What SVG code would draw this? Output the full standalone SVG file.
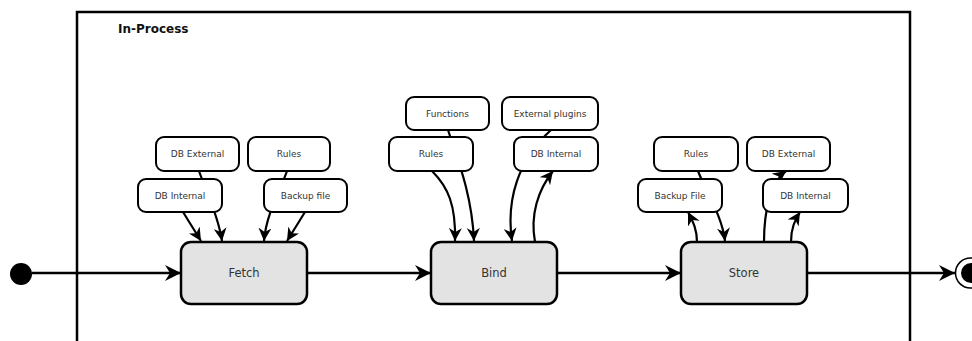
<svg xmlns="http://www.w3.org/2000/svg" width="972" height="341" viewBox="0 0 972 341">
  <style>
    .frame { fill: none; stroke: #000; stroke-width: 2.5; }
    .title { font-family: "DejaVu Sans", sans-serif; font-size: 12px; font-weight: bold; fill: #111; }
    .act rect { fill: #e3e3e3; stroke: #000; stroke-width: 2.5; }
    .act text { font-family: "DejaVu Sans", sans-serif; font-size: 11.5px; fill: #333; text-anchor: middle; }
    .obj rect { fill: #fff; stroke: #000; stroke-width: 2; }
    .obj text { font-family: "DejaVu Sans", sans-serif; font-size: 9px; fill: #333; text-anchor: middle; }
    .flow { fill: none; stroke: #000; stroke-width: 2.5; marker-end: url(#bigArrow); }
    .link { fill: none; stroke: #000; stroke-width: 2.2; marker-end: url(#smallArrow); }
  </style>
  <defs>
    <marker id="bigArrow" markerUnits="userSpaceOnUse" markerWidth="16" markerHeight="16" viewBox="0 0 16 16" refX="16" refY="8" orient="auto">
      <path d="M0,0 L16,8 L0,16 L5,8 z" fill="#000"/>
    </marker>
    <marker id="smallArrow" markerUnits="userSpaceOnUse" markerWidth="13" markerHeight="13" viewBox="0 0 13 13" refX="13" refY="6.5" orient="auto">
      <path d="M0,0 L13,6.5 L0,13 L4,6.5 z" fill="#000"/>
    </marker>
  </defs>

  <!-- swimlane frame -->
  <path class="frame" d="M77,341 L77,12 L910,12 L910,341"/>
  <text class="title" x="118" y="33">In-Process</text>

  <!-- connectors -->
  <g id="connectors">
    <path class="flow" d="M32,273 L181,273"/>
    <path class="flow" d="M307,273 L431,273"/>
    <path class="flow" d="M557,273 L681,273"/>
    <path class="flow" d="M807,273 L955,273"/>

    <!-- Fetch inputs -->
    <path class="link" d="M183,212 L201,241"/>
    <path class="link" d="M199,171 C204,186 218,214 222,241"/>
    <path class="link" d="M287,171 C282,186 266,214 264,241"/>
    <path class="link" d="M305,212 L287,241"/>

    <!-- Bind inputs / outputs -->
    <path class="link" d="M432,171 C448,187 456,205 455,241"/>
    <path class="link" d="M448,130 C458,160 472,195 474,241"/>
    <path class="link" d="M551,130 C518,160 506,200 512,241"/>
    <path class="link" d="M535,242 C530,215 538,190 553,171"/>

    <!-- Store inputs / outputs -->
    <path class="link" d="M698,171 C705,190 722,215 725,241"/>
    <path class="link" d="M697,242 C697,228 692,220 688,212"/>
    <path class="link" d="M764,242 C764,212 770,183 786,171"/>
    <path class="link" d="M791,242 C791,228 795,220 800,212"/>
  </g>

  <!-- start / end -->
  <g id="start"><circle cx="21" cy="274" r="11" fill="#000"/></g>
  <g id="end">
    <circle cx="970.5" cy="273" r="15" fill="#fff" stroke="#000" stroke-width="1.5"/>
    <circle cx="971" cy="273" r="10" fill="#000"/>
  </g>

  <!-- activities -->
  <g id="fetch" class="act"><rect x="181" y="242" width="126" height="62" rx="10"/><text x="244" y="277">Fetch</text></g>
  <g id="bind" class="act"><rect x="431" y="242" width="126" height="62" rx="10"/><text x="494" y="277">Bind</text></g>
  <g id="store" class="act"><rect x="681" y="242" width="126" height="62" rx="10"/><text x="744" y="277">Store</text></g>

  <!-- Fetch resources -->
  <g id="fetch-db-external" class="obj"><rect x="156" y="137" width="83" height="34" rx="8"/><text x="197.5" y="157">DB External</text></g>
  <g id="fetch-rules" class="obj"><rect x="248" y="137" width="82" height="34" rx="8"/><text x="289" y="157">Rules</text></g>
  <g id="fetch-db-internal" class="obj"><rect x="138" y="179" width="84" height="33" rx="8"/><text x="180" y="199">DB Internal</text></g>
  <g id="fetch-backup-file" class="obj"><rect x="264" y="179" width="83" height="33" rx="8"/><text x="305.5" y="199">Backup file</text></g>

  <!-- Bind resources -->
  <g id="bind-functions" class="obj"><rect x="406" y="97" width="83" height="33" rx="8"/><text x="447.5" y="117">Functions</text></g>
  <g id="bind-external-plugins" class="obj"><rect x="502" y="97" width="96" height="33" rx="8"/><text x="550" y="117">External plugins</text></g>
  <g id="bind-rules" class="obj"><rect x="389" y="137" width="84" height="34" rx="8"/><text x="431" y="157">Rules</text></g>
  <g id="bind-db-internal" class="obj"><rect x="514" y="137" width="84" height="34" rx="8"/><text x="556" y="157">DB Internal</text></g>

  <!-- Store resources -->
  <g id="store-rules" class="obj"><rect x="654" y="137" width="84" height="34" rx="8"/><text x="696" y="157">Rules</text></g>
  <g id="store-db-external" class="obj"><rect x="747" y="137" width="83" height="34" rx="8"/><text x="788.5" y="157">DB External</text></g>
  <g id="store-backup-file" class="obj"><rect x="638" y="179" width="84" height="33" rx="8"/><text x="680" y="199">Backup File</text></g>
  <g id="store-db-internal" class="obj"><rect x="763" y="179" width="85" height="33" rx="8"/><text x="805.5" y="199">DB Internal</text></g>
</svg>
